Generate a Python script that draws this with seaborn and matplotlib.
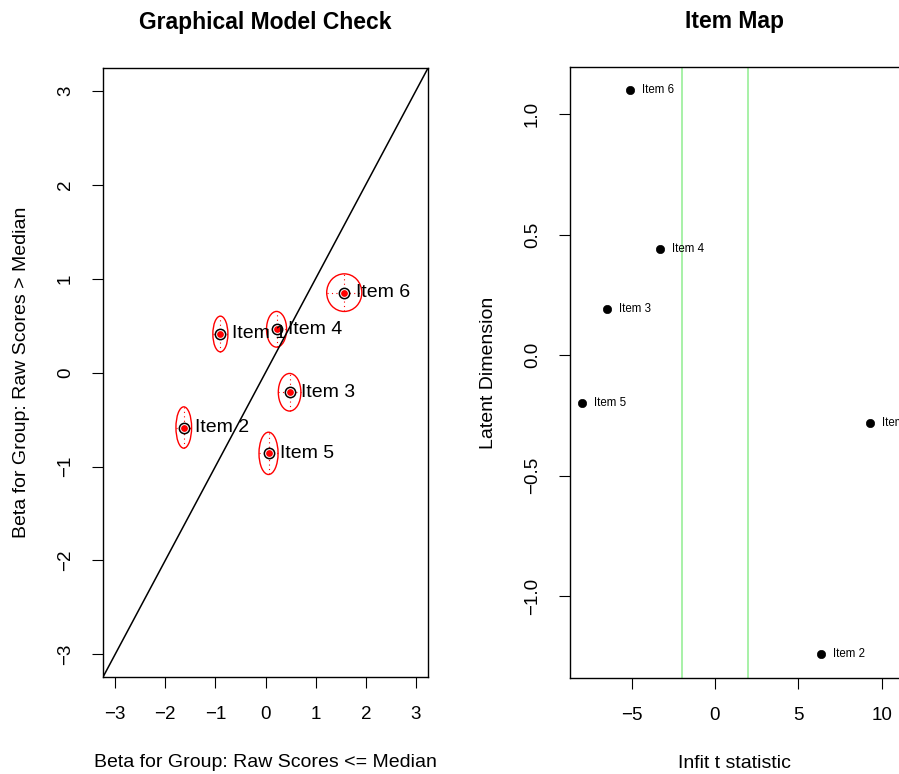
import numpy as np
import pandas as pd
import matplotlib
matplotlib.use("Agg")
import matplotlib.pyplot as plt
from matplotlib.patches import Ellipse
import seaborn as sns

# item estimates
items = ["Item 1", "Item 2", "Item 3", "Item 4", "Item 5", "Item 6"]
beta_low = [-0.90, -1.63, 0.48, 0.22, 0.06, 1.57]     # raw scores <= median
beta_high = [0.41, -0.585, -0.21, 0.46, -0.86, 0.85]  # raw scores > median
ci_low = [0.15, 0.156, 0.225, 0.20, 0.19, 0.35]       # half widths (x)
ci_high = [0.19, 0.22, 0.20, 0.19, 0.225, 0.20]       # half heights (y)

# item map
infit_t = [9.3, 6.36, -6.5, -3.3, -8.0, -5.1]
latent = [-0.28, -1.24, 0.19, 0.44, -0.20, 1.10]
infit_bounds = [-2, 2]

gmc = pd.DataFrame({"item": items, "low": beta_low, "high": beta_high,
                    "cl": ci_low, "ch": ci_high})
imap = pd.DataFrame({"item": items, "t": infit_t, "latent": latent})

sns.set_style("ticks")
plt.rcParams["font.family"] = ["Liberation Sans", "DejaVu Sans"]
plt.rcParams["axes.linewidth"] = 1.0
plt.rcParams["xtick.major.size"] = 8
plt.rcParams["ytick.major.size"] = 8
for k in ["text.color", "axes.labelcolor", "xtick.color", "ytick.color",
          "axes.edgecolor"]:
    plt.rcParams[k] = "black"

fig = plt.figure(figsize=(8.99, 7.74), dpi=100)
ax1 = fig.add_axes([0.1146, 0.1253, 0.3615, 0.7868])
ax2 = fig.add_axes([0.634, 0.124, 0.367, 0.7894])

def minus(v):
    return str(v).replace("-", "\u2212")

# ---- Graphical Model Check ----
lim = 3.24
ax1.plot([-lim, lim], [-lim, lim], color="black", lw=1.1)
for _, r in gmc.iterrows():
    ax1.add_patch(Ellipse((r["low"], r["high"]), 2 * r["cl"], 2 * r["ch"],
                          fill=False, edgecolor="red", lw=1.0))
    ax1.plot([r["low"] - r["cl"], r["low"] + r["cl"]], [r["high"]] * 2,
             color="red", ls=(0, (1, 3)), lw=0.8)
    ax1.plot([r["low"]] * 2, [r["high"] - r["ch"], r["high"] + r["ch"]],
             color="red", ls=(0, (1, 3)), lw=0.8)
sns.scatterplot(data=gmc, x="low", y="high", ax=ax1, s=55, color="white",
                edgecolor="black", linewidth=1.1, zorder=3)
sns.scatterplot(data=gmc, x="low", y="high", ax=ax1, s=24, color="red",
                edgecolor="red", linewidth=0, zorder=4)
for _, r in gmc.iterrows():
    ax1.text(r["low"] + 0.23, r["high"], r["item"], fontsize=14,
             va="center", ha="left", zorder=5)
ax1.set_xlim(-lim, lim)
ax1.set_ylim(-lim, lim)
ax1.set_xticks(range(-3, 4))
ax1.set_yticks(range(-3, 4))
ax1.set_xticklabels([minus(v) for v in range(-3, 4)])
ax1.set_yticklabels([minus(v) for v in range(-3, 4)], rotation=90, va="center")
ax1.set_xlabel("Beta for Group: Raw Scores <= Median", fontsize=14, labelpad=22)
ax1.set_ylabel("Beta for Group: Raw Scores > Median", fontsize=14, labelpad=19)
ax1.set_title("Graphical Model Check", fontsize=16.5, fontweight="bold", pad=28)
ax1.tick_params(labelsize=13.5, pad=13)

# ---- Item Map ----
for b in infit_bounds:
    ax2.axvline(b, color="#90EE90", lw=1.1)
sns.scatterplot(data=imap, x="t", y="latent", ax=ax2, s=36, color="black",
                edgecolor="black", zorder=3)
for _, r in imap.iterrows():
    ax2.text(r["t"] + 0.75, r["latent"], r["item"], fontsize=8.3,
             va="center", ha="left", zorder=4)
ax2.set_xlim(-8.7, 11.1)
ax2.set_ylim(-1.34, 1.195)
ax2.set_xticks([-5, 0, 5, 10])
ax2.set_xticklabels([minus(v) for v in [-5, 0, 5, 10]])
ax2.set_yticks([-1.0, -0.5, 0.0, 0.5, 1.0])
ax2.set_yticklabels([minus(v) for v in [-1.0, -0.5, 0.0, 0.5, 1.0]],
                    rotation=90, va="center")
ax2.set_xlabel("Infit t statistic", fontsize=14, labelpad=22)
ax2.set_ylabel("Latent Dimension", fontsize=14, labelpad=19)
ax2.set_title("Item Map", fontsize=16.5, fontweight="bold", pad=28)
ax2.tick_params(labelsize=13.5, pad=13)

for ax in (ax1, ax2):
    for s in ax.spines.values():
        s.set_visible(True)
        s.set_color("black")

fig.savefig("out.png", dpi=100)
